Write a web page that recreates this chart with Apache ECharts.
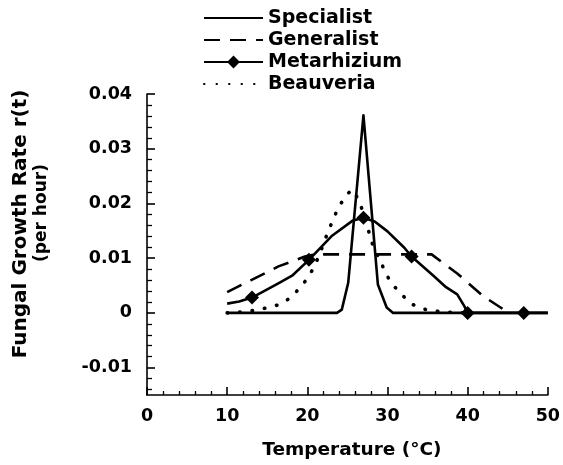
<!DOCTYPE html>
<html>
<head>
<meta charset="utf-8">
<script src="https://cdn.jsdelivr.net/npm/echarts@6/dist/echarts.min.js"></script>
<style>html,body{margin:0;padding:0;background:#fff;}#c{width:563px;height:465px;}</style>
</head>
<body>
<div id="c"></div>
<script>
// Temperature (°C) / growth rate r(t) (per hour)
const specialistT = [10, 23.7, 24.3, 25.1, 27, 28.8, 29.9, 30.7, 50];
const specialistR = [0, 0, 0.0006, 0.0055, 0.0361, 0.0052, 0.001, 0, 0];

const generalistT = [10, 13, 16.4, 19.7, 21, 35.5, 38.7, 42, 44.2, 45];
const generalistR = [0.0038, 0.006, 0.0085, 0.0103, 0.0107, 0.0107, 0.0072, 0.003, 0.0009, 0];

const metarhiziumT = [10, 11.5, 13.1, 16.5, 18.1, 20.2, 23, 25.7, 27, 28.4, 30, 32.1, 33, 35.8, 37.3, 38.7, 39.6, 40, 47, 50];
const metarhiziumR = [0.0017, 0.0021, 0.0028, 0.0055, 0.0068, 0.0097, 0.014, 0.0169, 0.0174, 0.0167, 0.0149, 0.0119, 0.0103, 0.0067, 0.0047, 0.0034, 0.0012, 0, 0, 0];
const metarhiziumMarked = [13.1, 20.2, 27, 33, 40, 47];

const beauveriaT = [10, 12, 13.5, 15.2, 16.7, 18.1, 19.6, 20.8, 21.6, 22.6, 23.9, 25.1, 25.7, 26.4, 27.2, 28, 29.5, 30.3, 31.7, 33.2, 34.8, 36.3, 38, 40];
const beauveriaR = [0, 0.0002, 0.0005, 0.001, 0.0016, 0.003, 0.0055, 0.0082, 0.011, 0.0149, 0.0194, 0.0219, 0.0225, 0.0206, 0.0175, 0.013, 0.0082, 0.0058, 0.0034, 0.0015, 0.0006, 0.0003, 0.0001, 0];

const seriesNames = ['Specialist', 'Generalist', 'Metarhizium', 'Beauveria'];
const yMajorTicks = [-0.01, 0, 0.01, 0.02, 0.03, 0.04];
const yMinorTicks = [-0.014, -0.012, -0.008, -0.006, -0.004, -0.002, 0.002, 0.004, 0.006, 0.008,
  0.012, 0.014, 0.016, 0.018, 0.022, 0.024, 0.026, 0.028, 0.032, 0.034, 0.036, 0.038];
const xTitle = 'Temperature (°C)';
const yTitleLine1 = 'Fungal Growth Rate r(t)';
const yTitleLine2 = '(per hour)';

const FONT = 'DejaVu Sans';
const pairs = (xs, ys) => xs.map((x, i) => [x, ys[i]]);
const metData = metarhiziumT.map((x, i) => metarhiziumMarked.includes(x)
  ? { value: [x, metarhiziumR[i]] }
  : { value: [x, metarhiziumR[i]], symbol: 'none' });

const chart = echarts.init(document.getElementById('c'), null, { renderer: 'canvas' });
const axisLineStyle = { color: '#000', width: 1.6 };
chart.setOption({
  animation: false,
  backgroundColor: '#fff',
  grid: { left: 147, right: 13, top: 94, bottom: 70 },
  legend: {
    orient: 'vertical',
    left: 203, top: 7,
    padding: 0,
    itemGap: 0,
    itemWidth: 59, itemHeight: 16,
    data: [
      { name: seriesNames[0], itemStyle: { opacity: 0 } },
      { name: seriesNames[1], itemStyle: { opacity: 0 } },
      { name: seriesNames[2] },
      { name: seriesNames[3], itemStyle: { opacity: 0 } }
    ],
    textStyle: { fontFamily: FONT, fontWeight: 'bold', fontSize: 19, color: '#000', lineHeight: 22 }
  },
  xAxis: {
    type: 'value', min: 0, max: 50, interval: 10,
    name: xTitle, nameLocation: 'middle', nameGap: 46,
    nameTextStyle: { fontFamily: FONT, fontWeight: 'bold', fontSize: 18.5, color: '#000', padding: [0, 0, 0, 9] },
    axisLine: { show: true, onZero: false, lineStyle: axisLineStyle },
    axisTick: { show: true, inside: true, length: 8, lineStyle: axisLineStyle },
    minorTick: { show: true, splitNumber: 5, length: 4, lineStyle: { color: '#000', width: 1.3 } },
    splitLine: { show: false },
    axisLabel: { fontFamily: FONT, fontWeight: 'bold', fontSize: 17.5, color: '#000', margin: 12 }
  },
  yAxis: [{
    type: 'value', min: -0.015, max: 0.04,
    axisLine: { show: true, onZero: false, lineStyle: axisLineStyle },
    axisTick: { show: true, inside: true, length: 8, customValues: yMajorTicks, lineStyle: axisLineStyle },
    splitLine: { show: false },
    axisLabel: { customValues: yMajorTicks, fontFamily: FONT, fontWeight: 'bold', fontSize: 17.5, color: '#000', margin: 15 }
  }, {
    type: 'value', min: -0.015, max: 0.04, position: 'left',
    axisLine: { show: false },
    axisTick: { show: true, inside: true, length: 5, customValues: yMinorTicks, lineStyle: { color: '#000', width: 1.3 } },
    splitLine: { show: false },
    axisLabel: { show: false }
  }],
  graphic: [{
    type: 'text', x: 21, y: 224, rotation: Math.PI / 2,
    style: { text: yTitleLine1, align: 'center', verticalAlign: 'middle', fill: '#000',
      font: 'bold 20px "DejaVu Sans"' }
  }, {
    type: 'text', x: 42, y: 213, rotation: Math.PI / 2,
    style: { text: yTitleLine2, align: 'center', verticalAlign: 'middle', fill: '#000',
      font: 'bold 17px "DejaVu Sans"' }
  }],
  series: [{
    name: seriesNames[0], type: 'line', symbol: 'none', data: pairs(specialistT, specialistR),
    lineStyle: { color: '#000', width: 2.6, join: 'round' }, itemStyle: { color: '#000' }
  }, {
    name: seriesNames[1], type: 'line', symbol: 'none', data: pairs(generalistT, generalistR),
    lineStyle: { color: '#000', width: 2.6, type: [16, 10] }, itemStyle: { color: '#000' }
  }, {
    name: seriesNames[2], type: 'line', symbol: 'diamond', symbolSize: 14, data: metData,
    lineStyle: { color: '#000', width: 2.6, join: 'round' }, itemStyle: { color: '#000' }
  }, {
    name: seriesNames[3], type: 'line', symbol: 'none', data: pairs(beauveriaT, beauveriaR),
    lineStyle: { color: '#000', width: 3.6, type: [0.5, 12], cap: 'round' }, itemStyle: { color: '#000' }
  }]
});
</script>
</body>
</html>
